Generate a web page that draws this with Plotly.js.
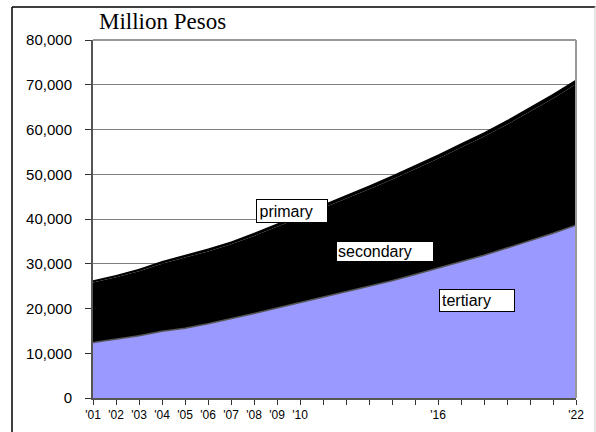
<!DOCTYPE html>
<html>
<head>
<meta charset="utf-8">
<script src="https://cdn.plot.ly/plotly-3.0.1.min.js"></script>
<style>
  html, body { margin: 0; padding: 0; background: #fff; }
  #chart { width: 596px; height: 432px; }
</style>
</head>
<body>
<div id="chart"></div>
<script>
// Spending by level, million pesos, stacked
const years = [2001, 2002, 2003, 2004, 2005, 2006, 2007, 2008, 2009, 2010, 2011,
               2012, 2013, 2014, 2015, 2016, 2017, 2018, 2019, 2020, 2021, 2022];
const yearLabels = ["'01", "'02", "'03", "'04", "'05", "'06", "'07", "'08", "'09", "'10", "",
                    "", "", "", "", "'16", "", "", "", "", "", "'22"];
const tertiary = [12400, 13200, 13900, 14900, 15600, 16600, 17700, 18900, 20100, 21300, 22600,
                  23700, 25000, 26200, 27600, 29000, 30400, 31900, 33500, 35100, 36800, 38600];
const secondary = [13400, 13780, 14440, 15110, 15790, 16160, 16640, 17310, 18180, 19050, 19820,
                   20800, 21670, 22640, 23510, 24480, 25550, 26520, 27590, 28860, 30120, 31490];
const primary = [500, 520, 560, 590, 610, 640, 660, 690, 720, 750, 780,
                 800, 830, 860, 890, 920, 950, 980, 1010, 1040, 1080, 1110];
const yTicks = [0, 10000, 20000, 30000, 40000, 50000, 60000, 70000, 80000];

const sans = "Liberation Sans, Arial, sans-serif";

const traces = [
  { x: years, y: tertiary, name: 'tertiary', type: 'scatter', mode: 'lines',
    stackgroup: 'one', fillcolor: '#9999FF', line: { color: '#555555', width: 1.5 } },
  { x: years, y: secondary, name: 'secondary', type: 'scatter', mode: 'lines',
    stackgroup: 'one', fillcolor: '#000000', line: { color: '#000000', width: 0 } },
  { x: years, y: primary, name: 'primary', type: 'scatter', mode: 'lines',
    stackgroup: 'one', fillcolor: '#000000', line: { color: '#000000', width: 0 } }
];

// white label box with a thin black border, text left-aligned
function box(text, x, y, w, pad) {
  return {
    text: text, x: x, y: y, xref: 'x', yref: 'y', showarrow: false,
    width: w, align: 'left',
    bgcolor: '#ffffff', bordercolor: '#000', borderwidth: 1, borderpad: pad,
    font: { family: sans, size: 16, color: '#000' }
  };
}

const layout = {
  width: 596, height: 432,
  margin: { l: 93, r: 20, t: 40, b: 34 },
  paper_bgcolor: '#ffffff', plot_bgcolor: '#ffffff',
  showlegend: false,
  font: { family: sans, color: '#000' },
  xaxis: {
    range: [2001, 2022], tickmode: 'array', tickvals: years, ticktext: yearLabels,
    ticks: 'outside', ticklen: 5, tickcolor: '#333', tickwidth: 1,
    showgrid: false, zeroline: false,
    showline: true, linecolor: '#555', linewidth: 2,
    tickfont: { family: sans, size: 12, color: '#000' }
  },
  yaxis: {
    range: [0, 80000], tickmode: 'array', tickvals: yTicks,
    tickformat: ',d', ticks: 'outside', ticklen: 6, tickcolor: '#333', tickwidth: 1,
    ticklabelstandoff: 10,
    showgrid: true, gridcolor: '#7f7f7f', gridwidth: 1, zeroline: false,
    showline: true, linecolor: '#555', linewidth: 2,
    tickfont: { family: sans, size: 15, color: '#000' }
  },
  annotations: [
    { text: 'Million Pesos', xref: 'paper', yref: 'paper', x: 0.008, y: 1.01,
      xanchor: 'left', yanchor: 'bottom', showarrow: false,
      font: { family: 'Liberation Serif, Times New Roman, serif', size: 23, color: '#000' } },
    box('primary', 2009.65, 41800, 65, 2.5),
    box('secondary', 2013.7, 32850, 94, 1),
    box('tertiary', 2017.7, 21700, 70, 2)
  ],
  shapes: [
    // plot frame: top and right edges
    { type: 'line', xref: 'paper', yref: 'paper', x0: 0, x1: 1, y0: 1, y1: 1,
      line: { color: '#999', width: 2 }, layer: 'above' },
    { type: 'line', xref: 'paper', yref: 'paper', x0: 1, x1: 1, y0: 0, y1: 1,
      line: { color: '#999', width: 2 }, layer: 'above' },
    // outer frame
    { type: 'line', xref: 'paper', yref: 'paper', x0: -0.1677, x1: 1.04, y0: 1.0922, y1: 1.0922,
      line: { color: '#000', width: 1.5 }, layer: 'above' },
    { type: 'line', xref: 'paper', yref: 'paper', x0: -0.1677, x1: -0.1677, y0: -0.2, y1: 1.0922,
      line: { color: '#000', width: 1.5 }, layer: 'above' },
    { type: 'line', xref: 'paper', yref: 'paper', x0: 1.0393, x1: 1.0393, y0: -0.2, y1: 1.0922,
      line: { color: '#cccccc', width: 1 }, layer: 'above' }
  ]
};

Plotly.newPlot('chart', traces, layout, { staticPlot: true, displayModeBar: false });
</script>
</body>
</html>
